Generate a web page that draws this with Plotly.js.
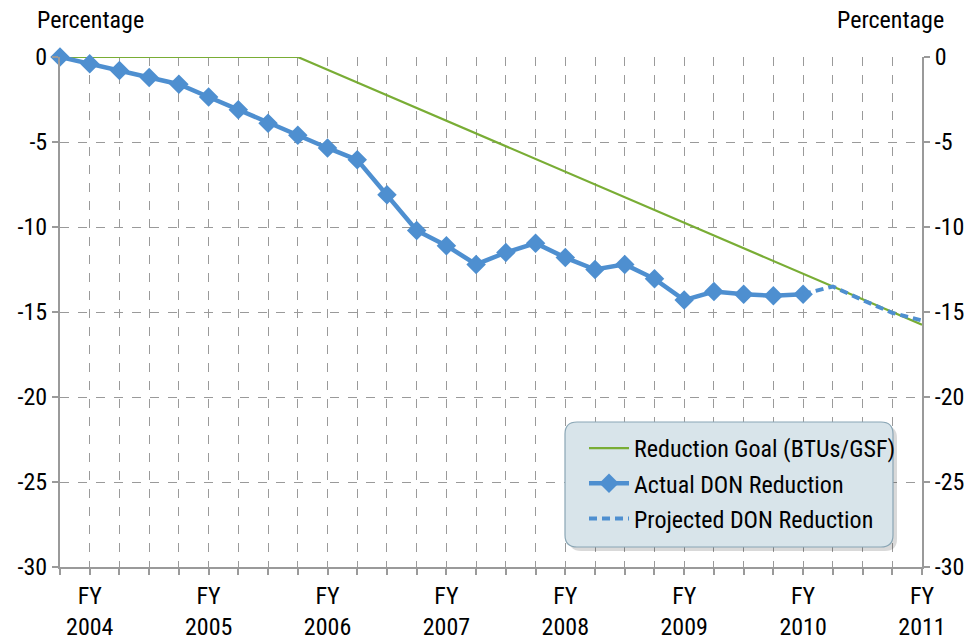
<!DOCTYPE html>
<html>
<head>
<meta charset="utf-8">
<script src="https://cdn.plot.ly/plotly-3.0.1.min.js"></script>
<style>html,body{margin:0;padding:0;background:#fff;}#chart{width:979px;height:643px;}</style>
</head>
<body>
<div id="chart"></div>
<script>
// Quarter index 0..29 (FY2004 label at quarter 1, FY2011 at quarter 29)
const quarters = Array.from({length: 30}, (_, i) => i);
const yearLabels = ["FY<br>2004","FY<br>2005","FY<br>2006","FY<br>2007","FY<br>2008","FY<br>2009","FY<br>2010","FY<br>2011"];
const yearLabelQuarters = [1, 5, 9, 13, 17, 21, 25, 29];

const goalValues = [0,0,0,0,0,0,0,0,0,-0.75,-1.5,-2.25,-3,-3.75,-4.5,-5.25,-6,-6.75,-7.5,-8.25,-9,-9.75,-10.5,-11.25,-12,-12.75,-13.5,-14.25,-15,-15.75];
const actualQuarters = quarters.slice(0, 26);
const actualValues = [0,-0.4,-0.8,-1.2,-1.6,-2.35,-3.1,-3.9,-4.6,-5.35,-6.05,-8.1,-10.2,-11.1,-12.2,-11.5,-10.95,-11.8,-12.5,-12.2,-13.05,-14.3,-13.8,-13.95,-14.05,-13.95];
const projectedQuarters = [25, 26, 27, 28, 29];
const projectedValues = [-13.95, -13.5, -14.3, -15.05, -15.5];
const yTicks = [0, -5, -10, -15, -20, -25, -30];

const FONT = "'Liberation Sans Narrow', 'Arial Narrow', 'Roboto Condensed', 'DejaVu Sans Condensed', sans-serif";
const blue = '#4e8fd0', green = '#79ad35', grid = '#9a9a9a', axisc = '#9a9a9a';

const tickvals = quarters;
const ticktext = quarters.map(q => { const k = yearLabelQuarters.indexOf(q); return k >= 0 ? yearLabels[k] : ''; });

const traces = [
  {x: quarters, y: goalValues, type: 'scatter', mode: 'lines', name: 'Reduction Goal (BTUs/GSF)', legendgroup: 'g1',
   line: {color: green, width: 2.2}, hoverinfo: 'skip'},
  {x: actualQuarters, y: actualValues, type: 'scatter', mode: 'lines+markers', name: 'Actual DON Reduction', legendgroup: 'g2',
   line: {color: blue, width: 4.5}, marker: {symbol: 'diamond', size: 15, color: blue}, cliponaxis: false},
  {x: projectedQuarters, y: projectedValues, type: 'scatter', mode: 'lines', name: 'Projected DON Reduction', legendgroup: 'g3',
   line: {color: blue, width: 4, dash: '8px,5px'}, yaxis: 'y2'}
];

// Pixel geometry helpers for the legend box
const L = 60, R = 57, T = 57, B = 76;
const W = 979 - L - R, H = 643 - T - B;
const px = v => (v - L) / W;
const py = v => (643 - B - v) / H;
function roundRect(x0, y0, x1, y1, r) {
  const rx = r / W, ry = r / H;
  const a = px(x0), b = px(x1), c = py(y0), d = py(y1); // c top, d bottom
  return `M ${a+rx},${c} L ${b-rx},${c} Q ${b},${c} ${b},${c-ry} L ${b},${d+ry} Q ${b},${d} ${b-rx},${d} L ${a+rx},${d} Q ${a},${d} ${a},${d+ry} L ${a},${c-ry} Q ${a},${c} ${a+rx},${c} Z`;
}

const layout = {
  width: 979, height: 643,
  margin: {l: L, r: R, t: T, b: B},
  paper_bgcolor: '#fff', plot_bgcolor: '#fff',
  font: {family: FONT, size: 24, color: '#000'},
  showlegend: true,
  xaxis: {range: [0, 29], tickmode: 'array', tickvals: tickvals, ticktext: ticktext,
    showgrid: true, gridcolor: grid, griddash: 'dash', gridwidth: 1,
    showline: true, linecolor: axisc, linewidth: 2, ticks: 'outside', ticklen: 6, tickcolor: axisc, tickwidth: 2,
    zeroline: false, tickfont: {size: 24, family: FONT}},
  yaxis: {range: [-30, 0], tickmode: 'array', tickvals: yTicks, ticktext: yTicks.map(String),
    showgrid: true, gridcolor: grid, griddash: 'dash', gridwidth: 1,
    showline: true, linecolor: axisc, linewidth: 2, ticks: 'outside', ticklen: 6, tickcolor: axisc, tickwidth: 2,
    zeroline: false, tickfont: {size: 24, family: FONT}},
  yaxis2: {range: [-30, 0], overlaying: 'y', side: 'right', tickmode: 'array', tickvals: yTicks, ticktext: yTicks.map(String),
    showgrid: false, showline: true, linecolor: axisc, linewidth: 2, ticks: 'outside', ticklen: 6, tickcolor: axisc, tickwidth: 2,
    zeroline: false, tickfont: {size: 24, family: FONT}},
  legend: {x: px(584), y: py(426), xanchor: 'left', yanchor: 'top', bgcolor: 'rgba(0,0,0,0)', borderwidth: 0,
    font: {size: 24, family: FONT}, tracegroupgap: 1, itemwidth: 40},
  shapes: [
    {type: 'path', xref: 'paper', yref: 'paper', path: roundRect(569, 426, 897, 551, 12), fillcolor: 'rgba(0,0,0,0.15)', line: {width: 0}, layer: 'above'},
    {type: 'path', xref: 'paper', yref: 'paper', path: roundRect(565, 422, 893, 547, 12), fillcolor: '#d8e4ea', line: {color: '#8aa6b5', width: 1.2}, layer: 'above'}
  ],
  annotations: [
    {text: 'Percentage', xref: 'paper', yref: 'paper', x: px(35), y: py(20), xanchor: 'left', yanchor: 'middle', showarrow: false, font: {size: 24, family: FONT}},
    {text: 'Percentage', xref: 'paper', yref: 'paper', x: px(946), y: py(20), xanchor: 'right', yanchor: 'middle', showarrow: false, font: {size: 24, family: FONT}}
  ]
};

Plotly.newPlot('chart', traces, layout, {displayModeBar: false, staticPlot: true});
</script>
</body>
</html>
